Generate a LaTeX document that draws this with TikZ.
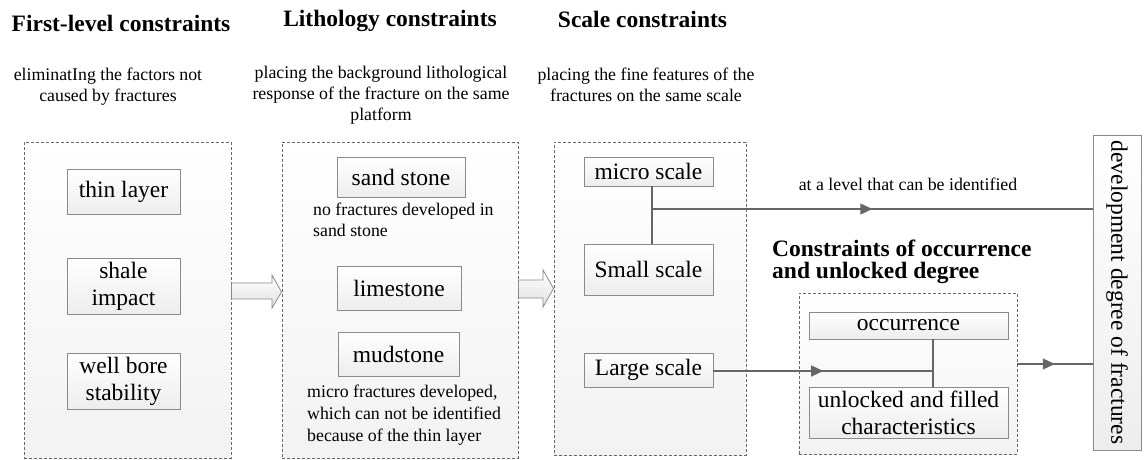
\documentclass[tikz,border=0pt]{standalone}
\usepackage{fontspec}
\setmainfont{Liberation Serif}
\usetikzlibrary{arrows.meta,decorations.markings,shadows}
\definecolor{linegray}{HTML}{666666}
\definecolor{boxborder}{HTML}{8A8A8A}
\tikzset{
  container/.style={draw=linegray, dashed, dash pattern=on 3pt off 2pt, line width=0.9pt,
    top color=white, bottom color=black!5, inner sep=0pt},
  itembox/.style={draw=boxborder, line width=0.9pt, top color=white, bottom color=black!7,
    inner sep=0pt, align=center, font=\fontsize{23.5}{27}\selectfont,
    drop shadow={shadow xshift=1.2pt, shadow yshift=-1.2pt, opacity=0.25, fill=black!50}},
  titletext/.style={font=\fontsize{23.5}{22}\selectfont\bfseries, inner sep=0pt},
  smalltext/.style={font=\fontsize{17.8}{21}\selectfont, inner sep=0pt},
  conn/.style={draw=linegray, line width=1.3pt},
  midarrow/.style={conn, postaction={decorate}, decoration={markings,
    mark=at position 0.5 with {\arrow{Triangle[length=12pt,width=11pt]}}}},
  blockarrow/.style={draw=boxborder, line width=0.8pt, top color=white, bottom color=black!12}
}
\begin{document}
\begin{tikzpicture}[x=1pt,y=-1pt]
\useasboundingbox (0,0) rectangle (1146,460);
% containers
\node[container, minimum width=207, minimum height=316] (c1) at (127.5,300) {};
\node[container, minimum width=236, minimum height=316] (c2) at (400,300) {};
\node[container, minimum width=192, minimum height=313] (c3) at (650,298.5) {};
\node[container, minimum width=218, minimum height=161] (c4) at (908,373.5) {};
% titles
\node[titletext, anchor=base] (t1) at (121,31.7) {First-level constraints};
\node[titletext, anchor=base] (t2) at (390,27) {Lithology constraints};
\node[titletext, anchor=base] (t3) at (642.5,27.3) {Scale constraints};
\node[titletext, align=left, anchor=north west] (t4) at (772,240) {Constraints of occurrence\\and unlocked degree};
% subtitles
\node[smalltext, align=center] (s1) at (108,87) {eliminatIng the factors not\\caused by fractures};
\node[smalltext, align=center] (s2) at (381,95) {placing the background lithological\\response of the fracture on the same\\platform};
\node[smalltext, align=center] (s3) at (646,84.5) {placing the fine features of the\\fractures on the same scale};
% column 1
\node[itembox, minimum width=113, minimum height=45] (thin) at (123.5,191.5) {thin layer};
\node[itembox, minimum width=113, minimum height=56] (shale) at (123.5,286) {shale\\impact};
\node[itembox, minimum width=113, minimum height=56] (well) at (123.5,381) {well bore\\stability};
% column 2
\node[itembox, minimum width=128, minimum height=40] (sand) at (401,177) {sand stone};
\node[itembox, minimum width=124, minimum height=44] (lime) at (399,288) {limestone};
\node[itembox, minimum width=121, minimum height=44] (mud) at (398.5,354) {mudstone};
\node[smalltext, align=left, anchor=west] (n1) at (313,219.5) {no fractures developed in\\sand stone};
\node[smalltext, align=left, anchor=west, font=\fontsize{17.8}{22}\selectfont] (n2) at (307,415) {micro fractures developed,\\which can not be identified\\because of the thin layer};
% column 3
\node[itembox, minimum width=129, minimum height=29] (micro) at (648.5,171.5) {micro scale};
\node[itembox, minimum width=129, minimum height=51] (small) at (648.5,269.5) {Small scale};
\node[itembox, minimum width=129, minimum height=34] (large) at (648.5,370) {Large scale};
% column 4
\node[itembox, minimum width=199, minimum height=27] (occ) at (908.5,325.5) {occurrence};
\node[itembox, minimum width=199, minimum height=51] (unl) at (908.5,412.5) {unlocked and filled\\characteristics};
% development box
\node[itembox, minimum width=48, minimum height=315] (dev) at (1117,292.5) {};
\node[font=\fontsize{23.5}{27}\selectfont, rotate=-90, inner sep=0pt] (devt) at (dev.center) {development degree of fractures};
% connectors
\coordinate (j1) at (652,209);
\coordinate (j2) at (933,371);
\coordinate (j3) at (1017,364);
\draw[conn] (j1 |- micro.south) -- (j1 |- small.north);
\draw[midarrow] (j1) -- (j1 -| dev.west);
\node[smalltext, anchor=base] (lvl) at (908,190) {at a level that can be identified};
\draw[conn] (j2 |- occ.south) -- (j2 |- unl.north);
\draw[midarrow] (large.east |- j2) -- (j2);
\draw[midarrow] (j3) -- (j3 -| dev.west);
% block arrows
\draw[blockarrow] (c1.east |- 0,283) -- (272,283) -- (272,275) -- (c2.west |- 0,292) -- (272,308) -- (272,299) -- (c1.east |- 0,299) -- cycle;
\draw[blockarrow] (c2.east |- 0,280) -- (543,280) -- (543,270) -- (c3.west |- 0,288.5) -- (543,307) -- (543,298) -- (c2.east |- 0,298) -- cycle;
\end{tikzpicture}
\end{document}
